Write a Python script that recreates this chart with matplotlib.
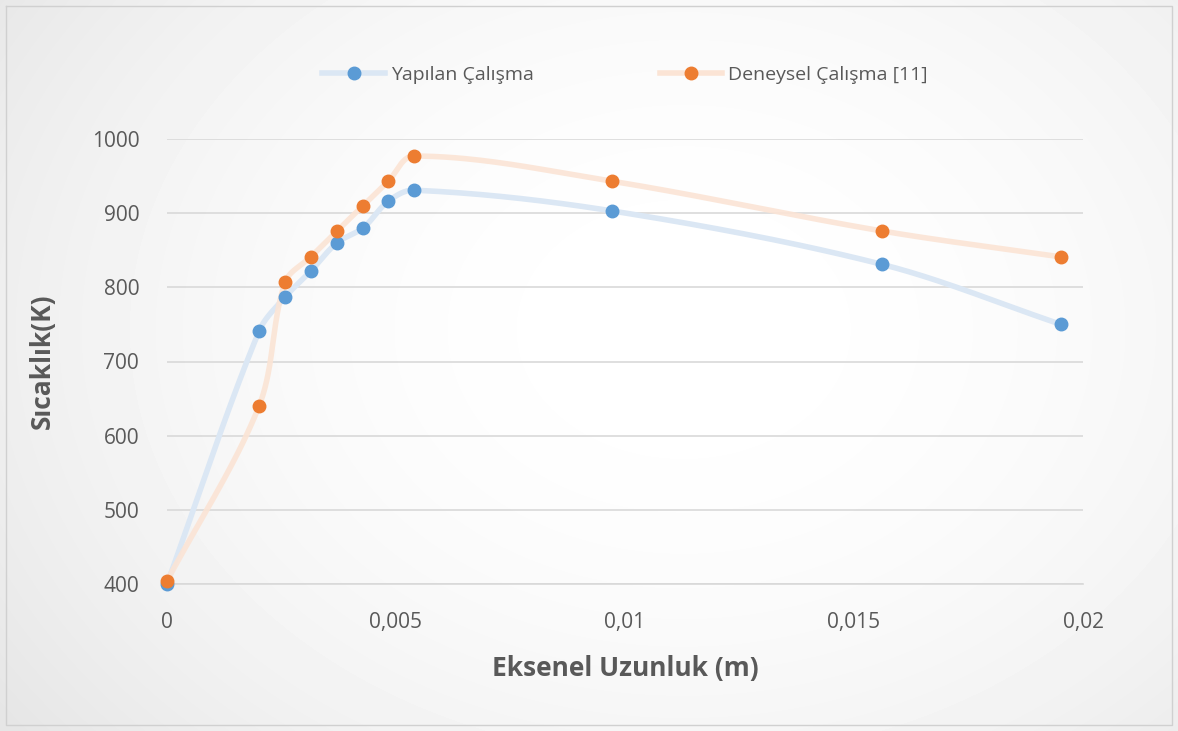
import numpy as np
import matplotlib.pyplot as plt

# data
x_yapilan = [0.0, 0.00201, 0.00258, 0.00314, 0.00371, 0.00428, 0.00483, 0.00539, 0.00972, 0.01561, 0.01952]
y_yapilan = [400, 741, 787, 822, 860, 880, 916, 931, 903, 831, 750]
x_deneysel = [0.0, 0.00201, 0.00258, 0.00314, 0.00371, 0.00428, 0.00483, 0.00539, 0.00972, 0.01561, 0.01952]
y_deneysel = [404, 640, 807, 841, 876, 910, 943, 977, 943, 876, 841]

LABELS = ['Yapılan Çalışma', 'Deneysel Çalışma [11]']
XTICKS = [0, 0.005, 0.01, 0.015, 0.02]
XTICKLABELS = ['0', '0,005', '0,01', '0,015', '0,02']
YTICKS = [400, 500, 600, 700, 800, 900, 1000]

plt.rcParams['font.family'] = ['Open Sans', 'DejaVu Sans']

W, H = 1178, 731
X0, X1, Y0, Y1 = 167, 1083, 584, 139   # plot area in pixels


def smooth(xs, ys, n=40):
    # bezier smoothing in pixel space, tangents limited to the segment length
    px = np.array([X0 + x / 0.02 * (X1 - X0) for x in xs])
    py = np.array([(y - 400) / 600 * (Y0 - Y1) for y in ys])
    P = np.column_stack([px, py])
    P = np.vstack([P[0], P, P[-1]])
    out = []
    for i in range(1, len(P) - 2):
        p0, p1, p2, p3 = P[i - 1], P[i], P[i + 1], P[i + 2]
        L = np.linalg.norm(p2 - p1)
        d1 = p2 - p0
        d2 = p3 - p1
        c1 = p1 + d1 / np.linalg.norm(d1) * L / 3
        c2 = p2 - d2 / np.linalg.norm(d2) * L / 3
        t = np.linspace(0, 1, n)[:, None]
        seg = (1 - t) ** 3 * p1 + 3 * (1 - t) ** 2 * t * c1 + 3 * (1 - t) * t ** 2 * c2 + t ** 3 * p2
        out.append(seg)
    out = np.vstack(out)
    sx = (out[:, 0] - X0) / (X1 - X0) * 0.02
    sy = out[:, 1] / (Y0 - Y1) * 600 + 400
    return sx, sy


def main():
    fig = plt.figure(figsize=(W / 100, H / 100), dpi=100)

    # radial background like the office chart style
    bg = fig.add_axes([0, 0, 1, 1])
    yy, xx = np.mgrid[0:H, 0:W]
    r = np.sqrt(((xx - W * 0.58) / (W * 0.6)) ** 2 + ((yy - H * 0.45) / (H * 0.75)) ** 2)
    shade = 1 - 0.07 * np.clip(r, 0, 1.2) ** 2
    bg.imshow(shade, cmap='gray', vmin=0, vmax=1, aspect='auto', extent=[0, W, H, 0])
    bg.plot([6, W - 6, W - 6, 6, 6], [6, 6, H - 6, H - 6, 6], color='#d0d0d0', lw=1)
    bg.set_xlim(0, W)
    bg.set_ylim(H, 0)
    bg.axis('off')

    ax = fig.add_axes([X0 / W, 1 - Y0 / H, (X1 - X0) / W, (Y0 - Y1) / H])
    ax.patch.set_alpha(0)

    blue, orange = '#5b9bd5', '#ed7d31'
    blue_l, orange_l = '#dbe7f4', '#fbe4d5'
    sx, sy = smooth(x_yapilan, y_yapilan)
    ax.plot(sx, sy, color=blue_l, lw=4, solid_capstyle='round', zorder=3)
    sx, sy = smooth(x_deneysel, y_deneysel)
    ax.plot(sx, sy, color=orange_l, lw=4, solid_capstyle='round', zorder=3, alpha=0.9)
    ax.plot(x_yapilan, y_yapilan, 'o', color=blue, ms=9, zorder=5, clip_on=False)
    ax.plot(x_deneysel, y_deneysel, 'o', color=orange, ms=9, zorder=5, clip_on=False)

    # legend handles
    h1, = ax.plot([], [], '-o', color=blue_l, mfc=blue, mec=blue, ms=9, lw=4, label=LABELS[0])
    h2, = ax.plot([], [], '-o', color=orange_l, mfc=orange, mec=orange, ms=9, lw=4, label=LABELS[1])
    leg = ax.legend(handles=[h1, h2], loc='center', bbox_to_anchor=(0.5, 1.144), ncol=2,
                    frameon=False, fontsize=14, columnspacing=6.5, handlelength=3.2, handletextpad=0.3)
    for t in leg.get_texts():
        t.set_color('#595959')

    ax.set_xlim(0, 0.02)
    ax.set_ylim(400, 1000)
    ax.set_xticks(XTICKS)
    ax.set_xticklabels(XTICKLABELS)
    ax.set_yticks(YTICKS)
    ax.grid(axis='y', color='#d9d9d9', lw=1.2)
    ax.set_axisbelow(True)
    for s in ['top', 'right', 'left']:
        ax.spines[s].set_visible(False)
    ax.spines['bottom'].set_color('#d9d9d9')
    ax.spines['bottom'].set_linewidth(1.2)
    ax.tick_params(length=0, labelsize=15, labelcolor='#595959', pad=20)
    ax.tick_params(axis='y', pad=20)

    ax.set_xlabel('Eksenel Uzunluk (m)', fontsize=19, fontweight='bold', color='#595959', labelpad=16)
    ax.set_ylabel('Sıcaklık(K)', fontsize=19, fontweight='bold', color='#595959', labelpad=26)

    fig.savefig('out.png', dpi=100)


if __name__ == "__main__":
    main()
